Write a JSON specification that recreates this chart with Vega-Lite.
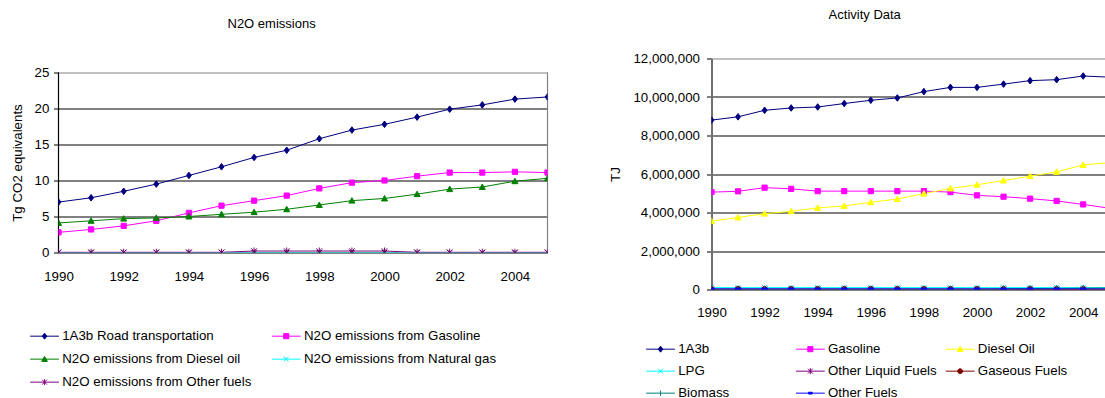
{
  "$schema": "https://vega.github.io/schema/vega-lite/v6.json",
  "padding": {"left": 9.5, "top": 8.5, "right": 1, "bottom": 0},
  "background": "white",
  "config": {
    "font": "Liberation Sans",
    "view": {"stroke": null},
    "title": {"font": "Liberation Sans", "fontSize": 13, "fontWeight": "normal", "color": "black", "anchor": "middle", "frame": "bounds"},
    "axis": {"labelFont": "Liberation Sans", "labelFontSize": 13.3, "labelColor": "black", "titleFont": "Liberation Sans", "titleFontSize": 13.3, "titleFontWeight": "normal", "titleColor": "black", "tickColor": "black", "domainColor": "black", "gridColor": "black", "gridOpacity": 1, "tickSize": 5, "labelFlush": false},
    "legend": {"labelFont": "Liberation Sans", "labelFontSize": 13.3, "labelColor": "black", "symbolSize": 36, "labelLimit": 400, "padding": 0, "gridAlign": "all", "rowPadding": 8, "symbolOffset": 11, "labelOffset": 11}
  },
  "resolve": {"scale": {"color": "independent", "x": "independent", "y": "independent"}},
  "spacing": 60,
  "datasets": {
    "n2o": [
      {"year": 1990, "series": "1A3b Road transportation", "value": 7.0},
      {"year": 1991, "series": "1A3b Road transportation", "value": 7.6},
      {"year": 1992, "series": "1A3b Road transportation", "value": 8.5},
      {"year": 1993, "series": "1A3b Road transportation", "value": 9.5},
      {"year": 1994, "series": "1A3b Road transportation", "value": 10.7},
      {"year": 1995, "series": "1A3b Road transportation", "value": 11.9},
      {"year": 1996, "series": "1A3b Road transportation", "value": 13.2},
      {"year": 1997, "series": "1A3b Road transportation", "value": 14.2},
      {"year": 1998, "series": "1A3b Road transportation", "value": 15.8},
      {"year": 1999, "series": "1A3b Road transportation", "value": 17.0},
      {"year": 2000, "series": "1A3b Road transportation", "value": 17.8},
      {"year": 2001, "series": "1A3b Road transportation", "value": 18.8},
      {"year": 2002, "series": "1A3b Road transportation", "value": 19.9},
      {"year": 2003, "series": "1A3b Road transportation", "value": 20.5},
      {"year": 2004, "series": "1A3b Road transportation", "value": 21.3},
      {"year": 2005, "series": "1A3b Road transportation", "value": 21.6},
      {"year": 1990, "series": "N2O emissions from Gasoline", "value": 2.8},
      {"year": 1991, "series": "N2O emissions from Gasoline", "value": 3.2},
      {"year": 1992, "series": "N2O emissions from Gasoline", "value": 3.7},
      {"year": 1993, "series": "N2O emissions from Gasoline", "value": 4.4},
      {"year": 1994, "series": "N2O emissions from Gasoline", "value": 5.5},
      {"year": 1995, "series": "N2O emissions from Gasoline", "value": 6.5},
      {"year": 1996, "series": "N2O emissions from Gasoline", "value": 7.2},
      {"year": 1997, "series": "N2O emissions from Gasoline", "value": 7.9},
      {"year": 1998, "series": "N2O emissions from Gasoline", "value": 8.9},
      {"year": 1999, "series": "N2O emissions from Gasoline", "value": 9.7},
      {"year": 2000, "series": "N2O emissions from Gasoline", "value": 10.0},
      {"year": 2001, "series": "N2O emissions from Gasoline", "value": 10.6},
      {"year": 2002, "series": "N2O emissions from Gasoline", "value": 11.1},
      {"year": 2003, "series": "N2O emissions from Gasoline", "value": 11.1},
      {"year": 2004, "series": "N2O emissions from Gasoline", "value": 11.2},
      {"year": 2005, "series": "N2O emissions from Gasoline", "value": 11.1},
      {"year": 1990, "series": "N2O emissions from Diesel oil", "value": 4.1},
      {"year": 1991, "series": "N2O emissions from Diesel oil", "value": 4.4},
      {"year": 1992, "series": "N2O emissions from Diesel oil", "value": 4.7},
      {"year": 1993, "series": "N2O emissions from Diesel oil", "value": 4.8},
      {"year": 1994, "series": "N2O emissions from Diesel oil", "value": 5.0},
      {"year": 1995, "series": "N2O emissions from Diesel oil", "value": 5.3},
      {"year": 1996, "series": "N2O emissions from Diesel oil", "value": 5.6},
      {"year": 1997, "series": "N2O emissions from Diesel oil", "value": 6.0},
      {"year": 1998, "series": "N2O emissions from Diesel oil", "value": 6.6},
      {"year": 1999, "series": "N2O emissions from Diesel oil", "value": 7.2},
      {"year": 2000, "series": "N2O emissions from Diesel oil", "value": 7.5},
      {"year": 2001, "series": "N2O emissions from Diesel oil", "value": 8.1},
      {"year": 2002, "series": "N2O emissions from Diesel oil", "value": 8.8},
      {"year": 2003, "series": "N2O emissions from Diesel oil", "value": 9.1},
      {"year": 2004, "series": "N2O emissions from Diesel oil", "value": 9.9},
      {"year": 2005, "series": "N2O emissions from Diesel oil", "value": 10.3},
      {"year": 1990, "series": "N2O emissions from Natural gas", "value": 0},
      {"year": 1991, "series": "N2O emissions from Natural gas", "value": 0},
      {"year": 1992, "series": "N2O emissions from Natural gas", "value": 0},
      {"year": 1993, "series": "N2O emissions from Natural gas", "value": 0},
      {"year": 1994, "series": "N2O emissions from Natural gas", "value": 0},
      {"year": 1995, "series": "N2O emissions from Natural gas", "value": 0},
      {"year": 1996, "series": "N2O emissions from Natural gas", "value": 0},
      {"year": 1997, "series": "N2O emissions from Natural gas", "value": 0},
      {"year": 1998, "series": "N2O emissions from Natural gas", "value": 0},
      {"year": 1999, "series": "N2O emissions from Natural gas", "value": 0},
      {"year": 2000, "series": "N2O emissions from Natural gas", "value": 0},
      {"year": 2001, "series": "N2O emissions from Natural gas", "value": 0},
      {"year": 2002, "series": "N2O emissions from Natural gas", "value": 0},
      {"year": 2003, "series": "N2O emissions from Natural gas", "value": 0},
      {"year": 2004, "series": "N2O emissions from Natural gas", "value": 0},
      {"year": 2005, "series": "N2O emissions from Natural gas", "value": 0},
      {"year": 1990, "series": "N2O emissions from Other fuels", "value": 0.03},
      {"year": 1991, "series": "N2O emissions from Other fuels", "value": 0.03},
      {"year": 1992, "series": "N2O emissions from Other fuels", "value": 0.03},
      {"year": 1993, "series": "N2O emissions from Other fuels", "value": 0.03},
      {"year": 1994, "series": "N2O emissions from Other fuels", "value": 0.03},
      {"year": 1995, "series": "N2O emissions from Other fuels", "value": 0.03},
      {"year": 1996, "series": "N2O emissions from Other fuels", "value": 0.2},
      {"year": 1997, "series": "N2O emissions from Other fuels", "value": 0.2},
      {"year": 1998, "series": "N2O emissions from Other fuels", "value": 0.2},
      {"year": 1999, "series": "N2O emissions from Other fuels", "value": 0.2},
      {"year": 2000, "series": "N2O emissions from Other fuels", "value": 0.2},
      {"year": 2001, "series": "N2O emissions from Other fuels", "value": 0.03},
      {"year": 2002, "series": "N2O emissions from Other fuels", "value": 0.03},
      {"year": 2003, "series": "N2O emissions from Other fuels", "value": 0.03},
      {"year": 2004, "series": "N2O emissions from Other fuels", "value": 0.03},
      {"year": 2005, "series": "N2O emissions from Other fuels", "value": 0.03}
    ],
    "activity": [
      {"year": 1990, "series": "1A3b", "value": 8800000},
      {"year": 1991, "series": "1A3b", "value": 8970000},
      {"year": 1992, "series": "1A3b", "value": 9310000},
      {"year": 1993, "series": "1A3b", "value": 9430000},
      {"year": 1994, "series": "1A3b", "value": 9480000},
      {"year": 1995, "series": "1A3b", "value": 9660000},
      {"year": 1996, "series": "1A3b", "value": 9830000},
      {"year": 1997, "series": "1A3b", "value": 9950000},
      {"year": 1998, "series": "1A3b", "value": 10280000},
      {"year": 1999, "series": "1A3b", "value": 10500000},
      {"year": 2000, "series": "1A3b", "value": 10500000},
      {"year": 2001, "series": "1A3b", "value": 10670000},
      {"year": 2002, "series": "1A3b", "value": 10850000},
      {"year": 2003, "series": "1A3b", "value": 10900000},
      {"year": 2004, "series": "1A3b", "value": 11090000},
      {"year": 2005, "series": "1A3b", "value": 11030000},
      {"year": 1990, "series": "Gasoline", "value": 5060000},
      {"year": 1991, "series": "Gasoline", "value": 5100000},
      {"year": 1992, "series": "Gasoline", "value": 5290000},
      {"year": 1993, "series": "Gasoline", "value": 5230000},
      {"year": 1994, "series": "Gasoline", "value": 5110000},
      {"year": 1995, "series": "Gasoline", "value": 5110000},
      {"year": 1996, "series": "Gasoline", "value": 5110000},
      {"year": 1997, "series": "Gasoline", "value": 5110000},
      {"year": 1998, "series": "Gasoline", "value": 5110000},
      {"year": 1999, "series": "Gasoline", "value": 5060000},
      {"year": 2000, "series": "Gasoline", "value": 4890000},
      {"year": 2001, "series": "Gasoline", "value": 4820000},
      {"year": 2002, "series": "Gasoline", "value": 4720000},
      {"year": 2003, "series": "Gasoline", "value": 4600000},
      {"year": 2004, "series": "Gasoline", "value": 4420000},
      {"year": 2005, "series": "Gasoline", "value": 4220000},
      {"year": 1990, "series": "Diesel Oil", "value": 3550000},
      {"year": 1991, "series": "Diesel Oil", "value": 3740000},
      {"year": 1992, "series": "Diesel Oil", "value": 3940000},
      {"year": 1993, "series": "Diesel Oil", "value": 4060000},
      {"year": 1994, "series": "Diesel Oil", "value": 4240000},
      {"year": 1995, "series": "Diesel Oil", "value": 4340000},
      {"year": 1996, "series": "Diesel Oil", "value": 4530000},
      {"year": 1997, "series": "Diesel Oil", "value": 4700000},
      {"year": 1998, "series": "Diesel Oil", "value": 4980000},
      {"year": 1999, "series": "Diesel Oil", "value": 5250000},
      {"year": 2000, "series": "Diesel Oil", "value": 5440000},
      {"year": 2001, "series": "Diesel Oil", "value": 5660000},
      {"year": 2002, "series": "Diesel Oil", "value": 5890000},
      {"year": 2003, "series": "Diesel Oil", "value": 6110000},
      {"year": 2004, "series": "Diesel Oil", "value": 6470000},
      {"year": 2005, "series": "Diesel Oil", "value": 6590000},
      {"year": 1990, "series": "LPG", "value": 100000},
      {"year": 1991, "series": "LPG", "value": 100000},
      {"year": 1992, "series": "LPG", "value": 100000},
      {"year": 1993, "series": "LPG", "value": 100000},
      {"year": 1994, "series": "LPG", "value": 100000},
      {"year": 1995, "series": "LPG", "value": 100000},
      {"year": 1996, "series": "LPG", "value": 100000},
      {"year": 1997, "series": "LPG", "value": 100000},
      {"year": 1998, "series": "LPG", "value": 100000},
      {"year": 1999, "series": "LPG", "value": 100000},
      {"year": 2000, "series": "LPG", "value": 100000},
      {"year": 2001, "series": "LPG", "value": 100000},
      {"year": 2002, "series": "LPG", "value": 100000},
      {"year": 2003, "series": "LPG", "value": 100000},
      {"year": 2004, "series": "LPG", "value": 100000},
      {"year": 2005, "series": "LPG", "value": 100000},
      {"year": 1990, "series": "Other Liquid Fuels", "value": 10000},
      {"year": 1991, "series": "Other Liquid Fuels", "value": 10000},
      {"year": 1992, "series": "Other Liquid Fuels", "value": 10000},
      {"year": 1993, "series": "Other Liquid Fuels", "value": 10000},
      {"year": 1994, "series": "Other Liquid Fuels", "value": 10000},
      {"year": 1995, "series": "Other Liquid Fuels", "value": 10000},
      {"year": 1996, "series": "Other Liquid Fuels", "value": 10000},
      {"year": 1997, "series": "Other Liquid Fuels", "value": 10000},
      {"year": 1998, "series": "Other Liquid Fuels", "value": 10000},
      {"year": 1999, "series": "Other Liquid Fuels", "value": 10000},
      {"year": 2000, "series": "Other Liquid Fuels", "value": 10000},
      {"year": 2001, "series": "Other Liquid Fuels", "value": 10000},
      {"year": 2002, "series": "Other Liquid Fuels", "value": 10000},
      {"year": 2003, "series": "Other Liquid Fuels", "value": 10000},
      {"year": 2004, "series": "Other Liquid Fuels", "value": 10000},
      {"year": 2005, "series": "Other Liquid Fuels", "value": 10000},
      {"year": 1990, "series": "Gaseous Fuels", "value": 20000},
      {"year": 1991, "series": "Gaseous Fuels", "value": 20000},
      {"year": 1992, "series": "Gaseous Fuels", "value": 20000},
      {"year": 1993, "series": "Gaseous Fuels", "value": 20000},
      {"year": 1994, "series": "Gaseous Fuels", "value": 20000},
      {"year": 1995, "series": "Gaseous Fuels", "value": 20000},
      {"year": 1996, "series": "Gaseous Fuels", "value": 20000},
      {"year": 1997, "series": "Gaseous Fuels", "value": 20000},
      {"year": 1998, "series": "Gaseous Fuels", "value": 20000},
      {"year": 1999, "series": "Gaseous Fuels", "value": 20000},
      {"year": 2000, "series": "Gaseous Fuels", "value": 20000},
      {"year": 2001, "series": "Gaseous Fuels", "value": 20000},
      {"year": 2002, "series": "Gaseous Fuels", "value": 20000},
      {"year": 2003, "series": "Gaseous Fuels", "value": 20000},
      {"year": 2004, "series": "Gaseous Fuels", "value": 20000},
      {"year": 2005, "series": "Gaseous Fuels", "value": 20000},
      {"year": 1990, "series": "Biomass", "value": 0},
      {"year": 1991, "series": "Biomass", "value": 0},
      {"year": 1992, "series": "Biomass", "value": 0},
      {"year": 1993, "series": "Biomass", "value": 0},
      {"year": 1994, "series": "Biomass", "value": 0},
      {"year": 1995, "series": "Biomass", "value": 0},
      {"year": 1996, "series": "Biomass", "value": 0},
      {"year": 1997, "series": "Biomass", "value": 0},
      {"year": 1998, "series": "Biomass", "value": 0},
      {"year": 1999, "series": "Biomass", "value": 0},
      {"year": 2000, "series": "Biomass", "value": 0},
      {"year": 2001, "series": "Biomass", "value": 30000},
      {"year": 2002, "series": "Biomass", "value": 50000},
      {"year": 2003, "series": "Biomass", "value": 60000},
      {"year": 2004, "series": "Biomass", "value": 70000},
      {"year": 2005, "series": "Biomass", "value": 80000},
      {"year": 1990, "series": "Other Fuels", "value": 30000},
      {"year": 1991, "series": "Other Fuels", "value": 30000},
      {"year": 1992, "series": "Other Fuels", "value": 30000},
      {"year": 1993, "series": "Other Fuels", "value": 30000},
      {"year": 1994, "series": "Other Fuels", "value": 30000},
      {"year": 1995, "series": "Other Fuels", "value": 30000},
      {"year": 1996, "series": "Other Fuels", "value": 30000},
      {"year": 1997, "series": "Other Fuels", "value": 30000},
      {"year": 1998, "series": "Other Fuels", "value": 30000},
      {"year": 1999, "series": "Other Fuels", "value": 30000},
      {"year": 2000, "series": "Other Fuels", "value": 30000},
      {"year": 2001, "series": "Other Fuels", "value": 30000},
      {"year": 2002, "series": "Other Fuels", "value": 30000},
      {"year": 2003, "series": "Other Fuels", "value": 30000},
      {"year": 2004, "series": "Other Fuels", "value": 30000},
      {"year": 2005, "series": "Other Fuels", "value": 30000}
    ]
  },
  "hconcat": [
    {
      "width": 489,
      "height": 194,
      "data": {"name": "n2o"},
      "title": {"text": "N2O emissions", "offset": 28, "dx": -7.5},
      "encoding": {
        "x": {"field": "year", "type": "quantitative", "scale": {"domain": [1990, 2005], "nice": false, "zero": false},
          "axis": {"values": [1990, 1992, 1994, 1996, 1998, 2000, 2002, 2004], "format": "d", "grid": false, "ticks": false, "domain": false, "labelPadding": 17, "title": null}},
        "y": {"field": "value", "type": "quantitative", "scale": {"domain": [0, 26.94], "nice": false},
          "axis": {"values": [0, 5, 10, 15, 20, 25], "title": "Tg CO2 equivalents", "titleY": 104, "titlePadding": 10, "labelPadding": 4.7, "domain": false,
            "gridColor": {"condition": {"test": "datum.value === 25", "value": "#808080"}, "value": "black"}}}
      },
      "layer": [
        {"transform": [{"filter": "datum.year === 2005 && datum.series === '1A3b Road transportation'"}],
          "mark": {"type": "rule", "color": "#808080", "strokeWidth": 1.2},
          "encoding": {"y": {"datum": 0}, "y2": {"datum": 25}}},
        {"transform": [{"filter": "datum.year === 1990 && datum.series === '1A3b Road transportation'"}],
          "mark": {"type": "rule", "color": "black", "strokeWidth": 1.2},
          "encoding": {"y": {"datum": 0}, "y2": {"datum": 25}}},
        {
          "mark": {"type": "line", "strokeWidth": 1, "clip": true},
          "encoding": {
            "color": {"field": "series", "type": "nominal", "sort": null,
              "scale": {"domain": ["1A3b Road transportation", "N2O emissions from Gasoline", "N2O emissions from Diesel oil", "N2O emissions from Natural gas", "N2O emissions from Other fuels"],
                "range": ["#000080", "#FF00FF", "#008000", "#00FFFF", "#800080"]},
              "legend": {"title": null, "orient": "none", "legendX": -31.6, "legendY": 271, "direction": "horizontal", "columns": 2, "columnPadding": 13.7, "rowPadding": 9,
                "encode": {"symbols": {"update": {
                  "shape": {"signal": "['M-4.8,0L4.8,0M0,-1L0.75,0L0,1L-0.75,0Z','M-4.8,0L4.8,0M-0.85,-0.85L0.85,-0.85L0.85,0.85L-0.85,0.85Z','M-4.8,0L4.8,0M0,-0.9L0.95,0.75L-0.95,0.75Z','M-4.8,0L4.8,0M-0.8,-0.8L0.8,0.8M-0.8,0.8L0.8,-0.8','M-4.8,0L4.8,0M-0.8,-0.8L0.8,0.8M-0.8,0.8L0.8,-0.8M0,-1L0,1'][indexof(['1A3b Road transportation','N2O emissions from Gasoline','N2O emissions from Diesel oil','N2O emissions from Natural gas','N2O emissions from Other fuels'], datum.value)]"},
                  "fill": {"signal": "['#000080','#FF00FF','#008000','#00FFFF','#800080'][indexof(['1A3b Road transportation','N2O emissions from Gasoline','N2O emissions from Diesel oil','N2O emissions from Natural gas','N2O emissions from Other fuels'], datum.value)]"},
                  "stroke": {"signal": "['#000080','#FF00FF','#008000','#00FFFF','#800080'][indexof(['1A3b Road transportation','N2O emissions from Gasoline','N2O emissions from Diesel oil','N2O emissions from Natural gas','N2O emissions from Other fuels'], datum.value)]"},
                  "strokeWidth": {"value": 1},
                  "opacity": {"value": 1}
                }}}}
            }
          }
        },
        {"transform": [{"filter": "datum.series === '1A3b Road transportation'"}],
          "mark": {"type": "point", "shape": "M0,-1.2L0.9,0L0,1.2L-0.9,0Z", "filled": true, "fill": "#000080", "stroke": "#000080", "size": 30, "strokeWidth": 1, "opacity": 1, "clip": true}},
        {"transform": [{"filter": "datum.series === 'N2O emissions from Gasoline'"}],
          "mark": {"type": "point", "shape": "M-0.95,-0.95L0.95,-0.95L0.95,0.95L-0.95,0.95Z", "filled": true, "fill": "#FF00FF", "stroke": "#FF00FF", "size": 30, "strokeWidth": 1, "opacity": 1, "clip": true}},
        {"transform": [{"filter": "datum.series === 'N2O emissions from Diesel oil'"}],
          "mark": {"type": "point", "shape": "M0,-1.1L1.1,0.9L-1.1,0.9Z", "filled": true, "fill": "#008000", "stroke": "#008000", "size": 30, "strokeWidth": 1, "opacity": 1, "clip": true}},
        {"transform": [{"filter": "datum.series === 'N2O emissions from Natural gas'"}],
          "mark": {"type": "point", "shape": "M-1,-1L1,1M-1,1L1,-1", "filled": false, "stroke": "#000000", "size": 30, "strokeWidth": 1, "opacity": 1, "clip": true}},
        {"transform": [{"filter": "datum.series === 'N2O emissions from Other fuels'"}],
          "mark": {"type": "point", "shape": "M-1,-1L1,1M-1,1L1,-1M0,-1.3L0,1.3", "filled": false, "stroke": "#800080", "size": 30, "strokeWidth": 1, "opacity": 1, "clip": true}}
      ]
    },
    {
      "width": 394,
      "height": 231,
      "data": {"name": "activity"},
      "title": {"text": "Activity Data", "offset": 30, "dx": 7.5},
      "encoding": {
        "x": {"field": "year", "type": "quantitative", "scale": {"domain": [1990, 2004.84], "nice": false, "zero": false},
          "axis": {"values": [1990, 1992, 1994, 1996, 1998, 2000, 2002, 2004], "format": "d", "grid": false, "ticks": false, "domain": false, "labelPadding": 16, "title": null}},
        "y": {"field": "value", "type": "quantitative", "scale": {"domain": [0, 12000000], "nice": false},
          "axis": {"values": [0, 2000000, 4000000, 6000000, 8000000, 10000000, 12000000], "format": ",d", "title": "TJ", "titlePadding": 10, "labelPadding": 7, "domainColor": "#707070", "domainWidth": 2,
            "gridColor": {"condition": {"test": "datum.value === 12000000", "value": "#808080"}, "value": "black"}}}
      },
      "layer": [
        {
          "mark": {"type": "line", "strokeWidth": 1, "clip": true},
          "encoding": {
            "color": {"field": "series", "type": "nominal", "sort": null,
              "scale": {"domain": ["1A3b", "Gasoline", "Diesel Oil", "LPG", "Other Liquid Fuels", "Gaseous Fuels", "Biomass", "Other Fuels"],
                "range": ["#000080", "#FF00FF", "#FFFF00", "#00FFFF", "#800080", "#800000", "#008080", "#0000FF"]},
              "legend": {"title": null, "orient": "none", "legendX": -68.6, "legendY": 284, "direction": "horizontal", "columns": 3, "columnPadding": 5.8, "rowPadding": 8,
                "encode": {"symbols": {"update": {
                  "shape": {"signal": "['M-4.8,0L4.8,0M0,-1L0.75,0L0,1L-0.75,0Z','M-4.8,0L4.8,0M-0.85,-0.85L0.85,-0.85L0.85,0.85L-0.85,0.85Z','M-4.8,0L4.8,0M0,-0.9L0.95,0.75L-0.95,0.75Z','M-4.8,0L4.8,0M-0.8,-0.8L0.8,0.8M-0.8,0.8L0.8,-0.8','M-4.8,0L4.8,0M-0.8,-0.8L0.8,0.8M-0.8,0.8L0.8,-0.8M0,-1L0,1','M-4.8,0L4.8,0M0.8,0A0.8,0.8,0,1,1,-0.8,0A0.8,0.8,0,1,1,0.8,0Z','M-4.8,0L4.8,0M0,-0.9L0,0.9','M-4.8,0L4.8,0M-0.6,-0.3L0.6,-0.3L0.6,0.3L-0.6,0.3Z'][indexof(['1A3b','Gasoline','Diesel Oil','LPG','Other Liquid Fuels','Gaseous Fuels','Biomass','Other Fuels'], datum.value)]"},
                  "fill": {"signal": "['#000080','#FF00FF','#FFFF00','#00FFFF','#800080','#800000','#008080','#0000FF'][indexof(['1A3b','Gasoline','Diesel Oil','LPG','Other Liquid Fuels','Gaseous Fuels','Biomass','Other Fuels'], datum.value)]"},
                  "stroke": {"signal": "['#000080','#FF00FF','#FFFF00','#00FFFF','#800080','#800000','#008080','#0000FF'][indexof(['1A3b','Gasoline','Diesel Oil','LPG','Other Liquid Fuels','Gaseous Fuels','Biomass','Other Fuels'], datum.value)]"},
                  "strokeWidth": {"value": 1},
                  "opacity": {"value": 1}
                }}}}
            }
          }
        },
        {"transform": [{"filter": "datum.series === '1A3b'"}],
          "mark": {"type": "point", "shape": "M0,-1.2L0.9,0L0,1.2L-0.9,0Z", "filled": true, "fill": "#000080", "stroke": "#000080", "size": 30, "strokeWidth": 1, "opacity": 1, "clip": true}},
        {"transform": [{"filter": "datum.series === 'Gasoline'"}],
          "mark": {"type": "point", "shape": "M-0.95,-0.95L0.95,-0.95L0.95,0.95L-0.95,0.95Z", "filled": true, "fill": "#FF00FF", "stroke": "#FF00FF", "size": 30, "strokeWidth": 1, "opacity": 1, "clip": true}},
        {"transform": [{"filter": "datum.series === 'Diesel Oil'"}],
          "mark": {"type": "point", "shape": "M0,-1.1L1.1,0.9L-1.1,0.9Z", "filled": true, "fill": "#FFFF00", "stroke": "#FFFF00", "size": 30, "strokeWidth": 1, "opacity": 1, "clip": true}},
        {"transform": [{"filter": "datum.series === 'LPG'"}],
          "mark": {"type": "point", "shape": "M-1,-1L1,1M-1,1L1,-1", "filled": false, "stroke": "#00FFFF", "size": 30, "strokeWidth": 1, "opacity": 1, "clip": true}},
        {"transform": [{"filter": "datum.series === 'Other Liquid Fuels'"}],
          "mark": {"type": "point", "shape": "M-1,-1L1,1M-1,1L1,-1M0,-1.3L0,1.3", "filled": false, "stroke": "#800080", "size": 30, "strokeWidth": 1, "opacity": 1, "clip": true}},
        {"transform": [{"filter": "datum.series === 'Gaseous Fuels'"}],
          "mark": {"type": "point", "shape": "M1,0A1,1,0,1,1,-1,0A1,1,0,1,1,1,0Z", "filled": true, "fill": "#800000", "stroke": "#800000", "size": 30, "strokeWidth": 1, "opacity": 1, "clip": true}},
        {"transform": [{"filter": "datum.series === 'Biomass'"}],
          "mark": {"type": "point", "shape": "M-1.2,0L1.2,0M0,-1.2L0,1.2", "filled": false, "stroke": "#008080", "size": 30, "strokeWidth": 1, "opacity": 1, "clip": true}},
        {"transform": [{"filter": "datum.series === 'Other Fuels'"}],
          "mark": {"type": "point", "shape": "M-1,-0.3L1,-0.3L1,0.3L-1,0.3Z", "filled": true, "fill": "#0000FF", "stroke": "#0000FF", "size": 30, "strokeWidth": 1, "opacity": 1, "clip": true}}
      ]
    }
  ]
}
